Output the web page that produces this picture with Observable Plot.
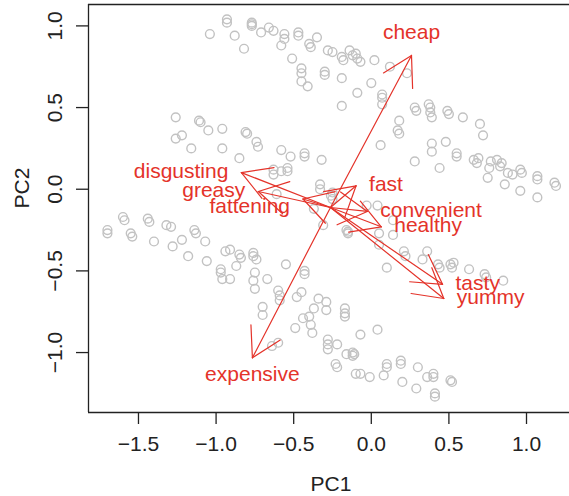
<!DOCTYPE html>
<html><head><meta charset="utf-8">
<script src="https://cdn.jsdelivr.net/npm/d3@7"></script>
<script src="https://cdn.jsdelivr.net/npm/@observablehq/plot@0.6"></script>
<style>html,body{margin:0;padding:0;background:#fff;overflow:hidden}</style>
</head><body><div id="chart"></div>
<script>
// Projected observations (PC1, PC2)
const pc1 = [
-0.93,-0.93,-1.04,-0.88,-0.77,-0.77,-0.77,-0.82,-0.71,-0.66,-0.63,-0.56,-0.56,-0.58,-0.47,-0.47,-0.40,-0.39,-0.35,-0.28,
-0.25,-0.51,-0.45,-0.45,-0.45,-0.41,-0.30,-0.30,-0.19,-0.18,-0.14,-0.12,-0.10,-0.09,-0.07,0.02,-0.19,0.00,-0.09,0.07,
0.07,0.07,-0.19,0.12,0.23,0.18,0.17,0.18,0.06,0.28,0.29,0.37,0.38,0.38,0.39,0.49,0.50,0.59,0.70,0.72,
0.39,0.39,0.48,0.28,0.44,0.55,0.55,0.66,0.69,0.68,0.76,0.77,0.81,0.84,0.83,0.88,0.91,0.75,0.86,0.96,
0.97,0.96,1.07,1.07,1.07,1.18,1.19,
-1.26,-1.11,-1.10,-1.05,-0.96,-1.26,-1.22,-1.16,-0.96,-0.81,-0.80,-0.74,-0.73,-0.85,-0.58,-0.52,-0.43,-0.43,-0.32,-0.63,
-0.63,-0.58,-0.54,-0.54,-0.61,-0.33,-0.33,-0.25,-0.26,-0.25,-0.03,0.04,-0.37,-0.31,-0.16,-0.15,-0.15,0.05,0.14,0.14,
0.05,0.21,0.22,0.10,0.33,0.36,0.43,0.44,0.51,0.52,0.53,0.63,0.73,0.74,0.85,
-1.70,-1.70,-1.60,-1.59,-1.55,-1.54,-1.44,-1.43,-1.40,-1.32,-1.29,-1.28,-1.22,-1.18,-1.14,-1.13,-1.07,-1.06,-0.94,-0.91,
-0.85,-0.84,-0.87,-0.97,-0.97,-0.96,-0.91,-0.76,-0.76,-0.74,-0.75,-0.76,-0.75,-0.67,-0.55,-0.43,-0.43,-0.60,-0.59,-0.59,
-0.48,-0.45,-0.34,-0.70,-0.70,-0.29,-0.29,-0.37,-0.44,-0.40,-0.39,-0.38,-0.49,-0.17,-0.17,-0.17,-0.64,-0.60,-0.28,-0.28,
-0.28,-0.22,-0.16,-0.12,-0.11,-0.12,-0.07,0.04,-0.23,-0.22,-0.10,-0.07,-0.01,0.08,0.10,0.10,0.19,0.19,0.20,0.30,
0.29,0.36,0.40,0.40,0.41,0.41,0.51,0.52
];
const pc2 = [
1.04,1.02,0.95,0.94,1.02,1.01,1.00,0.86,0.96,0.99,0.97,0.95,0.92,0.88,0.96,0.94,0.89,0.87,0.93,0.85,
0.84,0.80,0.74,0.71,0.66,0.63,0.72,0.70,0.81,0.79,0.85,0.82,0.83,0.80,0.78,0.79,0.68,0.65,0.59,0.58,
0.56,0.52,0.51,0.75,0.71,0.42,0.36,0.34,0.27,0.50,0.48,0.52,0.50,0.47,0.44,0.48,0.46,0.44,0.40,0.33,
0.28,0.23,0.29,0.17,0.13,0.22,0.20,0.18,0.19,0.16,0.13,0.17,0.18,0.16,0.14,0.10,0.09,0.07,0.03,0.12,
0.10,-0.01,0.08,0.06,-0.05,0.04,0.02,
0.44,0.42,0.41,0.36,0.37,0.31,0.33,0.25,0.25,0.35,0.34,0.29,0.26,0.19,0.24,0.20,0.22,0.20,0.18,0.12,
0.09,0.11,0.13,0.11,-0.03,0.03,0.00,-0.02,-0.04,-0.06,-0.10,-0.10,-0.12,-0.22,-0.25,-0.26,-0.27,-0.27,-0.19,-0.28,
-0.34,-0.38,-0.41,-0.48,-0.43,-0.38,-0.46,-0.48,-0.46,-0.48,-0.45,-0.49,-0.52,-0.54,-0.56,
-0.25,-0.27,-0.17,-0.19,-0.27,-0.29,-0.18,-0.20,-0.32,-0.22,-0.23,-0.35,-0.31,-0.41,-0.25,-0.27,-0.32,-0.44,-0.38,-0.37,
-0.40,-0.42,-0.47,-0.49,-0.51,-0.55,-0.55,-0.39,-0.41,-0.43,-0.51,-0.56,-0.61,-0.55,-0.46,-0.50,-0.52,-0.62,-0.65,-0.68,
-0.66,-0.63,-0.67,-0.72,-0.77,-0.69,-0.74,-0.73,-0.79,-0.78,-0.83,-0.88,-0.85,-0.73,-0.76,-0.78,-0.96,-0.94,-0.92,-0.95,
-0.98,-0.95,-1.01,-1.00,-1.01,-1.02,-0.89,-0.86,-1.07,-1.09,-1.13,-1.13,-1.15,-1.14,-1.07,-1.09,-1.05,-1.07,-1.18,-1.09,
-1.22,-1.15,-1.13,-1.15,-1.25,-1.27,-1.17,-1.18
];

// Projected attribute axes: common origin and arrow tips
const arrowOrigin = [-0.263, -0.112];
const variables = ["yummy","convenient","fattening","greasy","fast","cheap","tasty","expensive","healthy","disgusting"];
const tipPC1 = [0.467,-0.026,-0.440,-0.728,-0.098,0.259,0.459,-0.766,0.064,-0.837];
const tipPC2 = [-0.669,-0.136,-0.060,-0.014,0.021,0.819,-0.582,-1.032,-0.230,0.102];
const labelSide = ["right","right","left","left","right","above","right","below","right","left"];

const xTicks = [-1.5,-1.0,-0.5,0.0,0.5,1.0];
const yTicks = [-1.0,-0.5,0.0,0.5,1.0];
const xTitle = "PC1", yTitle = "PC2";

// ---- build ----
const W = 569, H = 496, mL = 88, mR = 0, mT = 4, mB = 84;
const xDomain = [-1.822, 1.277], yDomain = [-1.367, 1.131];
const sx = d3.scaleLinear(xDomain, [mL, W - mR]);
const sy = d3.scaleLinear(yDomain, [H - mB, mT]);

const points = pc1.map((x, i) => ({x, y: pc2[i]}));
const arrows = variables.map((name, i) => ({
  name, side: labelSide[i],
  x0: arrowOrigin[0], y0: arrowOrigin[1], x1: tipPC1[i], y1: tipPC2[i]
}));

const headLen = 33, headAng = Math.PI / 6;
const wings = [];
for (const a of arrows) {
  const px0 = sx(a.x0), py0 = sy(a.y0), px1 = sx(a.x1), py1 = sy(a.y1);
  const back = Math.atan2(py0 - py1, px0 - px1);
  for (const s of [-1, 1]) {
    const t = back + s * headAng;
    wings.push({x1: a.x1, y1: a.y1,
      x2: sx.invert(px1 + headLen * Math.cos(t)),
      y2: sy.invert(py1 + headLen * Math.sin(t))});
  }
}

const RED = "#e4332a";
const fmt = d3.format(".1f");
const FS = 21;

const chart = Plot.plot({
  width: W, height: H,
  marginLeft: mL, marginRight: mR, marginTop: mT, marginBottom: mB,
  style: {fontFamily: "'Liberation Sans', Arial, Helvetica, sans-serif", fontSize: FS + "px", background: "white", color: "#222"},
  x: {domain: xDomain},
  y: {domain: yDomain},
  marks: [
    Plot.dot(points, {x: "x", y: "y", r: 4.4, stroke: "#c2c2c2", strokeWidth: 1.4, fill: "none"}),
    Plot.link(arrows, {x1: "x0", y1: "y0", x2: "x1", y2: "y1", stroke: RED, strokeWidth: 1.2, strokeLinecap: "round"}),
    Plot.link(wings, {x1: "x1", y1: "y1", x2: "x2", y2: "y2", stroke: RED, strokeWidth: 1.2, strokeLinecap: "round"}),
    Plot.text(arrows.filter(d => d.side === "left" && d.name !== "fattening"), {x: "x1", y: "y1", text: "name", fill: RED, fontSize: FS, textAnchor: "end", lineAnchor: "middle", dx: -13, dy: -1.5}),
    Plot.text(arrows.filter(d => d.name === "fattening"), {x: "x1", y: "y1", text: "name", fill: RED, fontSize: FS, textAnchor: "end", lineAnchor: "middle", dx: -13, dy: 7.5}),
    Plot.text(arrows.filter(d => d.side === "right"), {x: "x1", y: "y1", text: "name", fill: RED, fontSize: FS, textAnchor: "start", lineAnchor: "middle", dx: 13, dy: -1.5}),
    Plot.text(arrows.filter(d => d.side === "above"), {x: "x1", y: "y1", text: "name", fill: RED, fontSize: FS, textAnchor: "middle", lineAnchor: "bottom", dy: -16}),
    Plot.text(arrows.filter(d => d.side === "below"), {x: "x1", y: "y1", text: "name", fill: RED, fontSize: FS, textAnchor: "middle", lineAnchor: "top", dy: 8}),
    // box (right side lies outside the picture)
    Plot.ruleY([yDomain[0], yDomain[1]], {stroke: "#222", strokeWidth: 1.3}),
    Plot.ruleX([xDomain[0]], {stroke: "#222", strokeWidth: 1.3}),
    Plot.axisX({ticks: xTicks, tickSize: 12, tickPadding: 12, tickFormat: fmt, label: null, fontSize: FS, stroke: "#222", strokeWidth: 1.3, color: "#222"}),
    Plot.axisY({ticks: yTicks, tickSize: 12, tickPadding: 14.3, tickRotate: -90, tickFormat: fmt, label: null, fontSize: FS, stroke: "#222", strokeWidth: 1.3, color: "#222"}),
    Plot.text([xTitle], {frameAnchor: "bottom", text: d => d, dx: 2, dy: 78, lineAnchor: "bottom", fontSize: FS, fill: "#222"}),
    Plot.text([yTitle], {frameAnchor: "left", text: d => d, rotate: -90, dx: -59.7, lineAnchor: "bottom", fontSize: FS, fill: "#222"})
  ]
});
document.getElementById("chart").appendChild(chart);
</script>
</body></html>
